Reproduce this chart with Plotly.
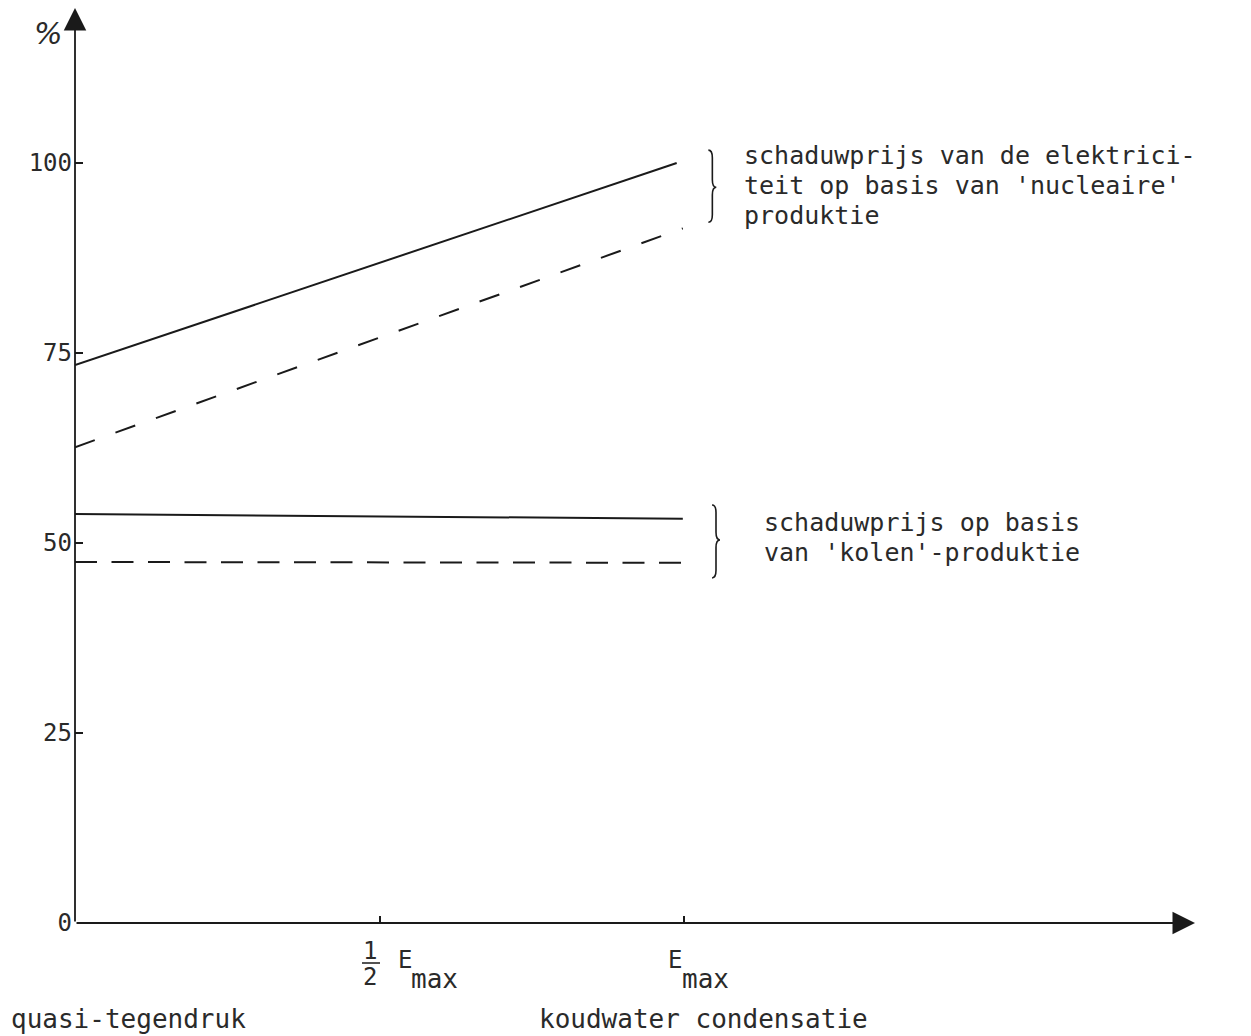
import plotly.graph_objects as go

# ---- data ----
x_nuclear_solid = [0.0, 0.988]
nuclear_solid = [73.4, 100.0]
x_nuclear_dashed = [0.0, 0.998]
nuclear_dashed = [62.6, 91.4]
x_coal_solid = [0.0, 0.998]
coal_solid = [53.8, 53.2]
x_coal_dashed = [0.0, 0.998]
coal_dashed = [47.5, 47.4]

y_tick_vals = [0, 25, 50, 75, 100]
y_tick_text = ["0", "25", "50", "75", "100"]
x_tick_vals = [0.5, 1.0]

nuclear_text = ["schaduwprijs van de elektrici-", "teit op basis van 'nucleaire'", "produktie"]
coal_text = ["schaduwprijs op basis", "van 'kolen'-produktie"]

# ---- layout geometry (page has an 8px body margin) ----
PAGE_OFF = 8
X0_PX, X1_PX = 75, 1195     # page px of x axis start / arrow tip
Y0_PX, Y1_PX = 923, 8       # page px of y=0 / top of plot
PX_PER_Y = 7.6
X_MAX = 1.839
Y_MAX = (Y0_PX - Y1_PX) / PX_PER_Y
FONT = "DejaVu Sans Mono"
INK = "#1a1a1a"
TXT = "#2a2a2a"


def px_to_paper(px, py):
    return (px - X0_PX) / (X1_PX - X0_PX), (Y0_PX - py) / (Y0_PX - Y1_PX)


fig = go.Figure()

line_style = dict(color=INK, width=2)
fig.add_trace(go.Scatter(x=x_nuclear_solid, y=nuclear_solid, mode="lines", line=line_style, showlegend=False))
fig.add_trace(go.Scatter(x=x_nuclear_dashed, y=nuclear_dashed, mode="lines",
                         line=dict(color=INK, width=2, dash="21px,22px"), showlegend=False))
fig.add_trace(go.Scatter(x=x_coal_solid, y=coal_solid, mode="lines", line=line_style, showlegend=False))
fig.add_trace(go.Scatter(x=x_coal_dashed, y=coal_dashed, mode="lines",
                         line=dict(color=INK, width=2, dash="22px,14.5px"), showlegend=False))

annotations = []
# axis arrows
annotations.append(dict(x=0, y=Y_MAX, ax=0, ay=0, xref="x", yref="y", axref="x", ayref="y",
                        text="", showarrow=True, arrowhead=2, arrowsize=2.5, arrowwidth=1.8,
                        arrowcolor=INK, standoff=0))
annotations.append(dict(x=X_MAX, y=0, ax=0, ay=0, xref="x", yref="y", axref="x", ayref="y",
                        text="", showarrow=True, arrowhead=2, arrowsize=2.5, arrowwidth=1.8,
                        arrowcolor=INK, standoff=0))


def ptxt(px, py, s, size=26, xanchor="left", yanchor="middle", family=FONT):
    x, y = px_to_paper(px, py)
    annotations.append(dict(x=x, y=y, xref="paper", yref="paper", text=s, showarrow=False,
                            xanchor=xanchor, yanchor=yanchor, align="left",
                            font=dict(family=family, size=size, color=TXT)))


def block(px, py, lines, size=25, spacing_font=23):
    # spacing_font sets line spacing (1.3 * spacing_font); inner span sets glyph size
    s = "<br>".join(f"<span style='font-size:{size}px'>{l}</span>" for l in lines)
    x, y = px_to_paper(px, py)
    annotations.append(dict(x=x, y=y, xref="paper", yref="paper", text=s, showarrow=False,
                            xanchor="left", yanchor="middle", align="left",
                            font=dict(family=FONT, size=spacing_font, color=TXT)))


# % label
ptxt(48, 33, "<i>%</i>", size=30, xanchor="center", family="DejaVu Sans")

# series labels
block(742, 185, nuclear_text)
block(762, 537, coal_text)

# x tick labels: 1/2 E_max and E_max
ptxt(370, 951, "1", size=24, xanchor="center")
ptxt(370, 977, "2", size=24, xanchor="center")
ptxt(396, 960, "E", size=24)
ptxt(409, 979, "max", size=26)
ptxt(666, 960, "E", size=24)
ptxt(680, 979, "max", size=26)

# bottom labels
ptxt(9, 1019, "quasi-tegendruk")
ptxt(537, 1019, "koudwater condensatie")


# braces
def brace(x0, ytop, ybot, ymid, w, d):
    xm = x0 + w / 2
    xt = x0 + w
    p = (f"M {x0},{ytop} Q {xm},{ytop} {xm},{ytop - d} L {xm},{ymid + d} "
         f"Q {xm},{ymid} {xt},{ymid} Q {xm},{ymid} {xm},{ymid - d} "
         f"L {xm},{ybot + d} Q {xm},{ybot} {x0},{ybot}")
    return dict(type="path", path=p, xref="x", yref="y", line=dict(color=INK, width=1.6))


bx0, by = px_to_paper(362, 963)
bx1, _ = px_to_paper(380, 963)
shapes = [
    brace(1.040, 101.7, 92.2, 96.8, 0.013, 1.0),
    brace(1.046, 55.0, 45.4, 50.4, 0.013, 1.0),
    # fraction bar of 1/2
    dict(type="line", xref="paper", yref="paper", x0=bx0, x1=bx1, y0=by, y1=by,
         line=dict(color=INK, width=1.5)),
]

fig.update_layout(
    width=1251 - PAGE_OFF, height=1036 - PAGE_OFF,
    margin=dict(l=X0_PX - PAGE_OFF, r=(1251 - PAGE_OFF) - (X1_PX - PAGE_OFF),
                t=Y1_PX - PAGE_OFF, b=1036 - Y0_PX, autoexpand=False),
    paper_bgcolor="white", plot_bgcolor="white",
    annotations=annotations, shapes=shapes,
    xaxis=dict(range=[0, X_MAX], showgrid=False, zeroline=False, showline=False,
               tickvals=x_tick_vals, ticks="inside", ticklen=7, tickwidth=1.5, tickcolor=INK,
               showticklabels=False, fixedrange=True, automargin=False),
    yaxis=dict(range=[0, Y_MAX], showgrid=False, zeroline=False, showline=False,
               tickvals=y_tick_vals, ticktext=y_tick_text, ticks="inside", ticklen=8,
               tickwidth=1.5, tickcolor=INK, ticklabelstandoff=2,
               tickfont=dict(family=FONT, size=24, color=TXT), fixedrange=True, automargin=False),
    showlegend=False,
)

fig.write_html("out.html")
